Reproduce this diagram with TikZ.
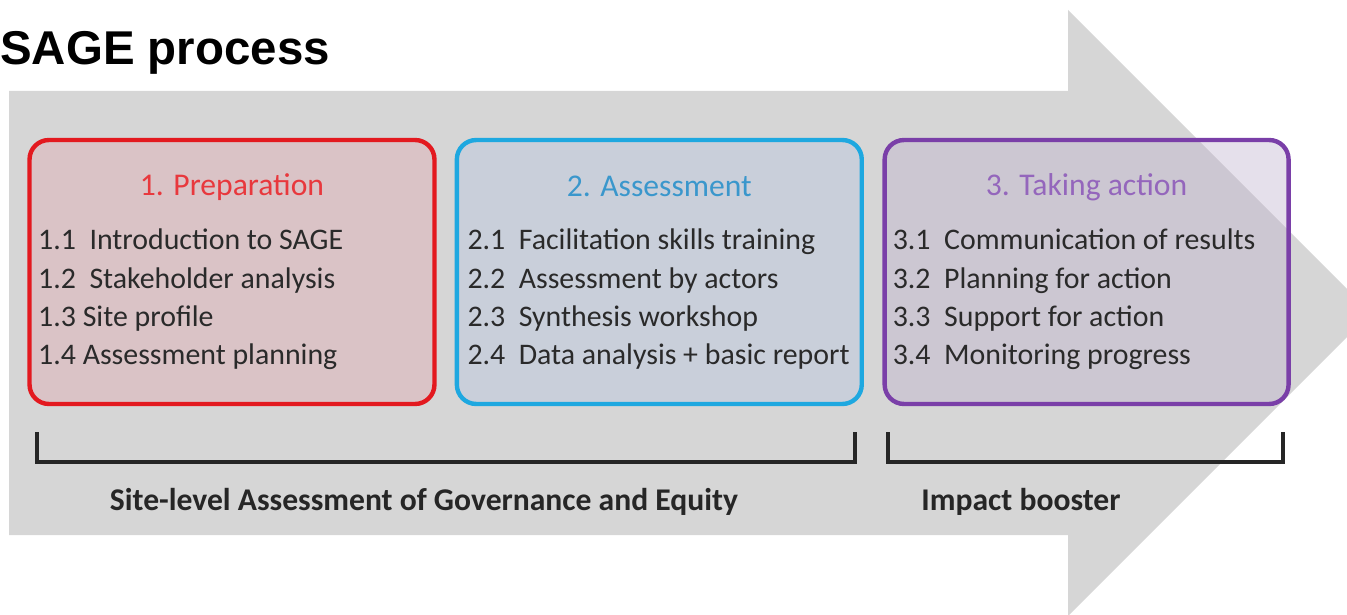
\documentclass[tikz,border=0pt]{standalone}
\usepackage{fontspec}
\setmainfont{Carlito}
\newfontfamily\titlefont{Liberation Sans}
\usetikzlibrary{positioning}
\definecolor{cshaft}{HTML}{D6D6D6}
\definecolor{cred}{HTML}{E3191F}
\definecolor{credtext}{HTML}{E8383D}
\definecolor{credfill}{HTML}{DAC3C6}
\definecolor{cblue}{HTML}{1EA8E0}
\definecolor{cbluetext}{HTML}{3A97CC}
\definecolor{cbluefill}{HTML}{C9CFDA}
\definecolor{cpurple}{HTML}{7A3FA8}
\definecolor{cpurpletext}{HTML}{9466BC}
\definecolor{cpurplefill}{HTML}{BFB2CC}
\definecolor{ctext}{HTML}{2A2A2A}
\tikzset{
  every picture/.style={x=0.02cm, y=-0.02cm},
  box/.style={draw=#1, rounded corners=11pt, line width=2.5pt, minimum height=5.28cm, inner sep=0pt},
  head/.style={font=\fontsize{18}{20}\selectfont, inner sep=0pt},
  items/.style={font=\fontsize{17}{21.8}\selectfont, align=left, text=ctext, inner sep=0pt},
  bracket/.style={line width=1.9pt, draw=black!85},
  caption/.style={font=\bfseries\fontsize{18}{20}\selectfont, text=black!85, inner sep=0pt},
}

\begin{document}
\begin{tikzpicture}
  \useasboundingbox (0,0) rectangle (1347,615);
  % big grey arrow behind everything
  \begin{scope}
    \clip (0,0) rectangle (1347,615);
    \fill[cshaft] (9,91) -- (1068,91) -- (1068,10) -- (1371,313) -- (1068,616) -- (1068,535) -- (9,535) -- cycle;
  \end{scope}
  \node[anchor=base west, inner sep=0pt, font=\titlefont\bfseries\fontsize{27}{30}\selectfont] (title) at (0,65) {SAGE process};
  % the three phases
  \node[box=cred, fill=credfill, minimum width=8.1cm] (prep) at (232,272) {};
  \node[box=cblue, fill=cbluefill, minimum width=8.1cm, right=0.36cm of prep] (assess) {};
  \node[box=cpurple, fill=cpurplefill, fill opacity=0.4, minimum width=8.08cm, right=0.37cm of assess] (action) {};
  \node[head, text=credtext] (prep-head) at ([yshift=-0.98cm]prep.north) {1. Preparation};
  \node[head, text=cbluetext] (assess-head) at ([yshift=-0.98cm]assess.north) {2. Assessment};
  \node[head, text=cpurpletext] (action-head) at ([yshift=-0.98cm]action.north) {3. Taking action};
  \node[items, anchor=base west] (prep-list) at ([xshift=0.21cm, yshift=-4.54cm]prep.north west)
    {1.1\ \ Introduction to SAGE\\1.2\ \ Stakeholder analysis\\1.3 Site profile\\1.4 Assessment planning};
  \node[items, anchor=base west] (assess-list) at ([xshift=0.25cm, yshift=-4.54cm]assess.north west)
    {2.1\ \ Facilitation skills training\\2.2\ \ Assessment by actors\\2.3\ \ Synthesis workshop\\2.4\ \ Data analysis + basic report};
  \node[items, anchor=base west] (action-list) at ([xshift=0.2cm, yshift=-4.54cm]action.north west)
    {3.1\ \ Communication of results\\3.2\ \ Planning for action\\3.3\ \ Support for action\\3.4\ \ Monitoring progress};
  % brackets and what they stand for
  \coordinate (sage-l) at (37,432);
  \coordinate (sage-r) at (855,432);
  \coordinate (boost-l) at (888,432);
  \coordinate (boost-r) at (1283,432);
  \draw[bracket] (sage-l) -- ++(0,30) -| (sage-r);
  \draw[bracket] (boost-l) -- ++(0,30) -| (boost-r);
  \node[caption, anchor=base] (sage-label) at (424,510) {Site-level Assessment of Governance and Equity};
  \node[caption, anchor=base] (boost-label) at (1021,510) {Impact booster};
\end{tikzpicture}
\end{document}
